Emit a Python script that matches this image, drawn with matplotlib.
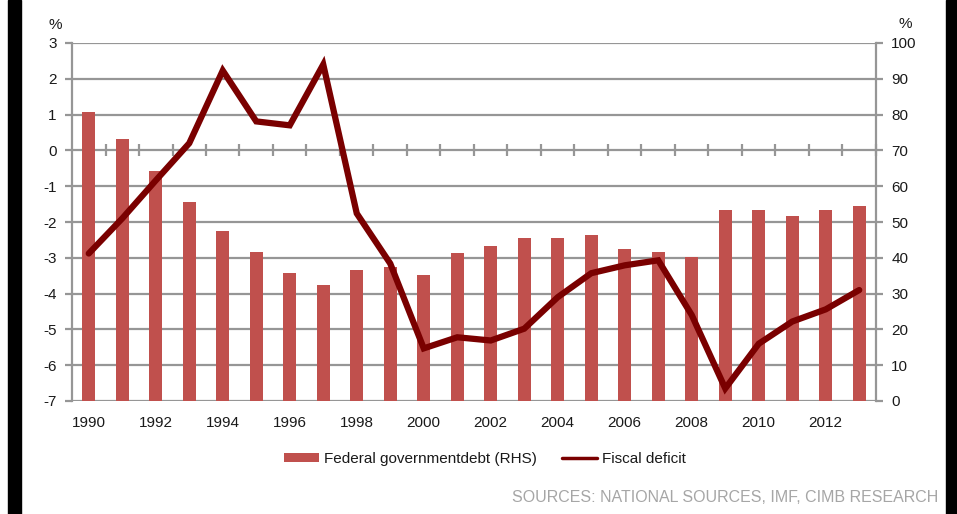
import matplotlib
matplotlib.use("Agg")
import matplotlib.pyplot as plt
import numpy as np
from matplotlib.patches import Rectangle

plt.rcParams['font.family'] = ['Liberation Sans', 'DejaVu Sans']
plt.rcParams['axes.unicode_minus'] = False

years = list(range(1990, 2014))
debt_rhs = [80.7, 73.2, 64.2, 55.7, 47.6, 41.6, 35.8, 32.4, 36.6, 37.5,
            35.2, 41.4, 43.3, 45.5, 45.5, 46.5, 42.5, 41.6, 40.2, 53.4,
            53.4, 51.7, 53.4, 54.5]
fiscal_deficit = [-2.88, -1.9, -0.84, 0.2, 2.23, 0.81, 0.70, 2.40, -1.76, -3.16,
                  -5.53, -5.22, -5.31, -4.98, -4.10, -3.43, -3.21, -3.07, -4.60, -6.65,
                  -5.40, -4.78, -4.44, -3.90]
left_ticks = list(range(-7, 4))
right_ticks = list(range(0, 101, 10))
year_labels = [str(y) for y in years if y % 2 == 0]

BAR_COLOR = '#C0504D'
LINE_COLOR = '#7A0000'
GRID_COLOR = '#969696'
TEXT_COLOR = '#1a1a1a'
FS = 11

W, H = 957, 514
fig = plt.figure(figsize=(W / 100, H / 100), dpi=100)

# side strips
fig.patches.append(Rectangle((8 / W, 0), 13 / W, 1, transform=fig.transFigure,
                             color='black', zorder=0))
fig.patches.append(Rectangle((946 / W, 0), 11 / W, 1, transform=fig.transFigure,
                             color='black', zorder=0))

x0, x1 = 72 / W, 876 / W
y0, y1 = 1 - 401 / H, 1 - 43 / H
ax = fig.add_axes([x0, y0, x1 - x0, y1 - y0])
ax2 = ax.twinx()

x = np.arange(len(years))

# bars on the right-hand axis, gridlines behind them
ax2.bar(x, debt_rhs, width=0.4, color=BAR_COLOR, zorder=2,
        label='Federal governmentdebt (RHS)')
ax2.set_ylim(0, 100)
ax2.set_yticks(right_ticks)
ax2.set_axisbelow(True)
ax2.yaxis.grid(True, color=GRID_COLOR, linewidth=1.6)

# deficit line on the left axis, drawn above the bars
ax.set_zorder(ax2.get_zorder() + 1)
ax.patch.set_visible(False)
ax.plot(x, fiscal_deficit, color=LINE_COLOR, linewidth=4.5, solid_joinstyle='miter',
        solid_capstyle='round', label='Fiscal deficit', zorder=3)
ax.set_ylim(-7, 3)
ax.set_yticks(left_ticks)
ax.set_xlim(-0.5, len(years) - 0.5)

# year labels at the bottom
ax.set_xticks([i for i, y in enumerate(years) if y % 2 == 0])
ax.set_xticklabels(year_labels)
ax.tick_params(axis='x', length=0, pad=11, labelsize=FS, labelcolor=TEXT_COLOR)

# category tick marks along the zero line
zero_frac = (0 - (-7)) / 10
sec = ax.secondary_xaxis(zero_frac)
sec.set_xticks(np.arange(-0.5, len(years) - 0.4, 1.0)[1:])
sec.tick_params(axis='x', direction='inout', length=8, width=1.6,
                color=GRID_COLOR, labelbottom=False, labeltop=False)
sec.spines['bottom'].set_visible(False)
sec.spines['top'].set_visible(False)

for a in (ax, ax2):
    for s in a.spines.values():
        s.set_visible(False)
ax.spines['left'].set_visible(True)
ax.spines['left'].set_color(GRID_COLOR)
ax.spines['left'].set_linewidth(1.6)
ax2.spines['right'].set_visible(True)
ax2.spines['right'].set_color(GRID_COLOR)
ax2.spines['right'].set_linewidth(1.6)

ax.tick_params(axis='y', direction='out', length=5, width=1.6, color=GRID_COLOR,
               labelsize=FS, labelcolor=TEXT_COLOR, pad=6)
ax2.tick_params(axis='y', direction='out', length=5, width=1.6, color=GRID_COLOR,
                labelsize=FS, labelcolor=TEXT_COLOR, pad=6)

fig.text(55 / W, 1 - 25 / H, '%', ha='center', va='center', fontsize=FS,
         color=TEXT_COLOR)
fig.text(905 / W, 1 - 24 / H, '%', ha='center', va='center', fontsize=FS,
         color=TEXT_COLOR)

h2, l2 = ax2.get_legend_handles_labels()
h1, l1 = ax.get_legend_handles_labels()
leg = fig.legend(h2 + h1, l2 + l1, loc='center', bbox_to_anchor=(485 / W, 1 - 459 / H),
                 ncol=2, frameon=False, fontsize=FS, handlelength=2.3,
                 handleheight=0.55, handletextpad=0.35, columnspacing=1.6)
for t in leg.get_texts():
    t.set_color(TEXT_COLOR)
leg.legend_handles[1].set_linewidth(2.5)

fig.text(938 / W, 1 - 498 / H, 'SOURCES: NATIONAL SOURCES, IMF, CIMB RESEARCH',
         ha='right', va='center', fontsize=11.5, color='#a6a6a6')

fig.savefig('out.png', dpi=100)
